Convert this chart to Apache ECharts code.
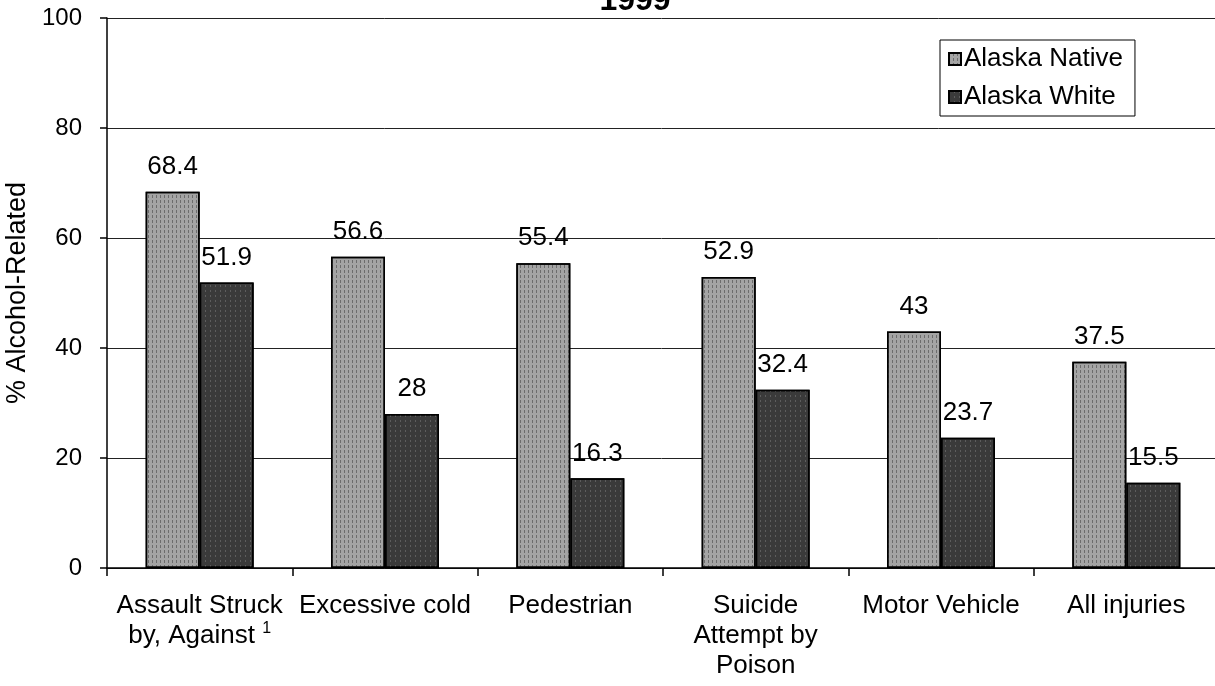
<!DOCTYPE html>
<html>
<head>
<meta charset="utf-8">
<script src="https://cdn.jsdelivr.net/npm/echarts@6/dist/echarts.min.js"></script>
<style>
html,body{margin:0;padding:0;background:#fff;}
#chart{width:1215px;height:686px;}
</style>
</head>
<body>
<div id="chart"></div>
<script>
const categories = [
  'Assault Struck\nby, Against {sup|1}',
  'Excessive cold',
  'Pedestrian',
  'Suicide\nAttempt by\nPoison',
  'Motor Vehicle',
  'All injuries'
];
const alaskaNative = [68.4, 56.6, 55.4, 52.9, 43, 37.5];
const alaskaWhite = [51.9, 28, 16.3, 32.4, 23.7, 15.5];
const yTicks = [0, 20, 40, 60, 80, 100];

const FONT = 'Liberation Sans, Arial, sans-serif';
const chart = echarts.init(document.getElementById('chart'), null, {renderer: 'canvas'});
chart.setOption({
  animation: false,
  backgroundColor: '#fff',
  textStyle: {fontFamily: FONT, color: '#000'},
  title: {
    text: '1999',
    left: 630,
    textAlign: 'center',
    top: -20,
    textStyle: {fontFamily: FONT, fontSize: 32, fontWeight: 'bold', color: '#000'}
  },
  legend: {
    orient: 'vertical',
    left: 940,
    top: 40,
    padding: [6, 12, 6, 8],
    itemGap: 12,
    itemWidth: 12,
    itemHeight: 12,
    icon: 'rect',
    borderColor: '#000',
    borderWidth: 1,
    textStyle: {fontFamily: FONT, fontSize: 26, color: '#000', padding: [0, 0, 0, -2]},
    data: ['Alaska Native', 'Alaska White']
  },
  grid: {left: 107, right: -4, top: 18, bottom: 118, containLabel: false, outerBoundsMode: 'none'},
  xAxis: {
    type: 'category',
    data: categories,
    axisLine: {show: true, lineStyle: {color: '#000', width: 1.5}},
    axisTick: {show: true, length: 8, lineStyle: {color: '#000', width: 1.5}},
    axisLabel: {
      interval: 0,
      margin: 23,
      fontFamily: FONT,
      fontSize: 26,
      lineHeight: 30,
      color: '#000',
      align: 'center',
      rich: {
        sup: {fontSize: 16, fontFamily: FONT, color: '#000', verticalAlign: 'top', lineHeight: 30, padding: [0, 0, 10, 0]}
      }
    },
    splitLine: {show: false}
  },
  yAxis: {
    type: 'value',
    min: 0,
    max: 100,
    interval: 20,
    name: '% Alcohol-Related',
    nameLocation: 'middle',
    nameGap: 72,
    nameTextStyle: {fontFamily: FONT, fontSize: 27, color: '#000'},
    axisLine: {show: true, lineStyle: {color: '#000', width: 1.5}},
    axisTick: {show: true, length: 7, lineStyle: {color: '#000', width: 1.5}},
    axisLabel: {
      margin: 25,
      fontFamily: FONT,
      fontSize: 24,
      color: '#000',
      formatter: function (v) { return yTicks.indexOf(v) >= 0 ? String(v) : ''; }
    },
    splitLine: {show: true, lineStyle: {color: '#222', width: 1}}
  },
  series: [
    {
      name: 'Alaska Native',
      type: 'bar',
      data: alaskaNative,
      barWidth: 54,
      barGap: '0%',
      itemStyle: {
        color: '#a4a4a4',
        borderColor: '#000',
        borderWidth: 1.5,
        decal: {symbol: 'rect', symbolSize: 1, color: 'rgba(40,40,40,0.45)', dashArrayX: [1, 3], dashArrayY: [3, 2], rotation: 0}
      },
      label: {show: true, position: 'top', distance: 12, fontFamily: FONT, fontSize: 26, color: '#000'}
    },
    {
      name: 'Alaska White',
      type: 'bar',
      data: alaskaWhite,
      barWidth: 54,
      barGap: '0%',
      itemStyle: {
        color: '#3a3a3a',
        borderColor: '#000',
        borderWidth: 1.5,
        decal: {symbol: 'rect', symbolSize: 1, color: 'rgba(160,160,160,0.35)', dashArrayX: [1, 4], dashArrayY: [2, 3], rotation: 0}
      },
      label: {show: true, position: 'top', distance: 12, fontFamily: FONT, fontSize: 26, color: '#000'}
    }
  ]
});
</script>
</body>
</html>
